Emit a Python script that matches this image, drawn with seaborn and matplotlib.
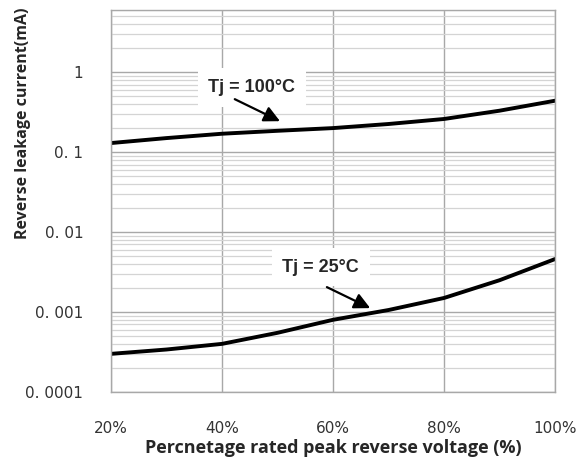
import numpy as np
import pandas as pd
import matplotlib
matplotlib.use("Agg")
import matplotlib.pyplot as plt
import matplotlib.ticker as mticker
import seaborn as sns

# data
voltage_pct = [20, 30, 40, 50, 60, 70, 80, 90, 100]
current_100c = [0.13, 0.15, 0.17, 0.185, 0.20, 0.225, 0.26, 0.33, 0.44]
current_25c = [0.0003, 0.00034, 0.0004, 0.00055, 0.0008, 0.00106, 0.0015, 0.0025, 0.0046]
x_ticks = [20, 40, 60, 80, 100]
x_labels = ["20%", "40%", "60%", "80%", "100%"]
y_ticks = [0.0001, 0.001, 0.01, 0.1, 1]
y_labels = ["0. 0001", "0. 001", "0. 01", "0. 1", "1"]

df = pd.DataFrame({
    "voltage": voltage_pct * 2,
    "current": current_100c + current_25c,
    "tj": ["100"] * len(voltage_pct) + ["25"] * len(voltage_pct),
})

sns.set_style("white")
plt.rcParams["font.family"] = ["DejaVu Sans"]

fig = plt.figure(figsize=(5.81, 4.63), dpi=100)
ax = fig.add_axes([111 / 581, 1 - 392 / 463, 444 / 581, 382 / 463])

ax.set_yscale("log")
ax.set_xlim(20, 100)
ax.set_ylim(0.0001, 6)

# grid
ax.yaxis.set_minor_locator(mticker.LogLocator(base=10, subs=np.arange(2, 10)))
ax.grid(which="major", axis="y", color="#a8a8a8", lw=1.0)
ax.grid(which="minor", axis="y", color="#d4d4d4", lw=0.9)
ax.grid(which="major", axis="x", color="#a8a8a8", lw=1.0)
ax.set_axisbelow(True)

sns.lineplot(data=df, x="voltage", y="current", hue="tj", units="tj",
             estimator=None, palette=["black", "black"], lw=2.8,
             legend=False, ax=ax)

for s in ax.spines.values():
    s.set_color("#a8a8a8")
    s.set_linewidth(1.0)

ax.set_xticks(x_ticks)
ax.set_xticklabels(x_labels, fontsize=11, color="#333333")
ax.set_yticks(y_ticks)
ax.set_yticklabels(y_labels, fontsize=11, color="#333333")
ax.yaxis.set_minor_formatter(mticker.NullFormatter())
ax.tick_params(axis="x", which="both", length=0, pad=21)
ax.tick_params(axis="y", which="both", length=0, pad=20)

ax.set_xlabel("Percnetage rated peak reverse voltage (%)", fontsize=13,
              fontweight="bold", family="Open Sans", labelpad=2)
ax.set_ylabel("Reverse leakage current(mA)", fontsize=11.5,
              fontweight="bold", family="Open Sans")
ax.yaxis.set_label_coords(-0.18, 0.704)

# annotations: text boxes and arrows
txt_style = dict(fontsize=13, fontweight="bold", family="Liberation Sans",
                 ha="center", va="center", zorder=3,
                 bbox=dict(boxstyle="square,pad=0.6", fc="white", ec="none"))
arrow = dict(arrowstyle="-|>", color="black", lw=1.6,
             mutation_scale=24, shrinkA=0, shrinkB=0)

ax.text(45.4, 0.65, "Tj = 100°C", **txt_style)
ax.annotate("", xy=(50.45, 0.244), xytext=(42.3, 0.46), arrowprops=arrow, zorder=4)

ax.text(57.8, 0.00365, "Tj = 25°C", **txt_style)
ax.annotate("", xy=(66.7, 0.00112), xytext=(58.9, 0.00205), arrowprops=arrow, zorder=4)

fig.savefig("out.png", dpi=100)
